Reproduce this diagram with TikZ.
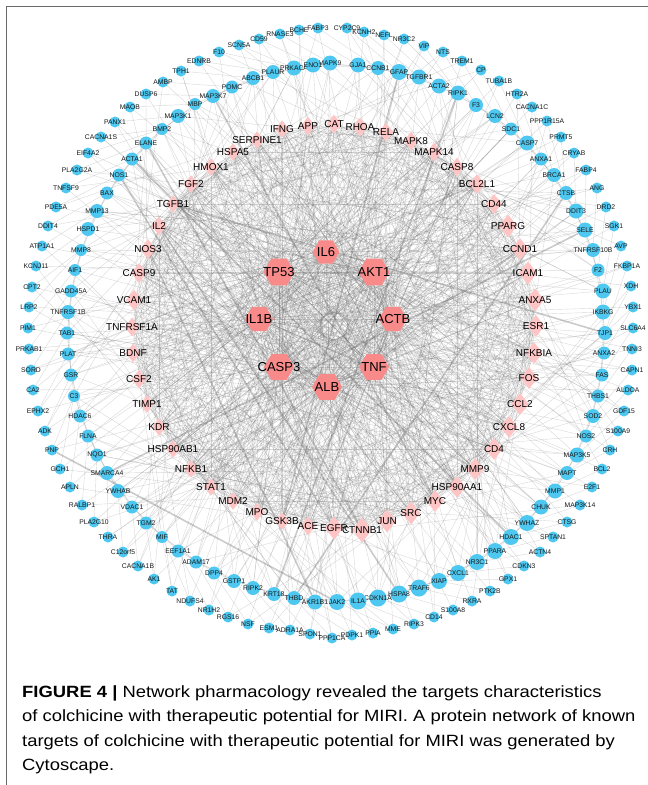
\documentclass[tikz,border=0pt]{standalone}
\usepackage{fontspec}
\setmainfont{Liberation Sans}
\newfontfamily\capfont[FakeStretch=1.13]{Liberation Sans}
\usetikzlibrary{shapes.geometric}
\pgfdeclarelayer{edges}
\pgfsetlayers{edges,main}
\definecolor{hubred}{RGB}{248,138,138}
\definecolor{midpink}{RGB}{255,196,196}
\definecolor{leafblue}{RGB}{78,200,240}
\definecolor{edgegray}{RGB}{105,105,105}
\definecolor{framegray}{RGB}{105,105,105}

\begin{document}
\begin{tikzpicture}[x=1pt,y=-1pt,
	hub/.style={regular polygon, regular polygon sides=6,
				fill=hubred, inner sep=0pt},
	hublab/.style={font=\fontsize{13}{13}\selectfont, inner sep=0pt},
	mid/.style={diamond, fill=midpink, inner sep=0pt},
	midlab/.style={font=\fontsize{10}{10}\selectfont, inner sep=0pt},
	leaf/.style={circle, fill=leafblue, inner sep=0pt},
	leaflab/.style={font=\fontsize{6.8}{6.8}\selectfont, text=black!90, inner sep=0pt},
	link/.style={draw=edgegray, line width=0.4pt, opacity=0.26},
	heavy/.style={draw=edgegray, line width=1.6pt, opacity=0.35}
]
	\useasboundingbox (0,0) rectangle (648,785);
	\draw[framegray, line width=1.2pt] (6.5,785) |- (648,6.5);

	% core targets
	\foreach \nm/\x/\y/\s [count=\i] in {IL6/326/252/27, TP53/279/272/31,
		AKT1/374/272/31, IL1B/259/319/28, ACTB/393/319/28, CASP3/279/367/30,
		TNF/374/367/30, ALB/327/387/30}
		\node[hub, minimum size=\s, alias=h\i,
			label={[hublab]center:\nm}] (\nm) at (\x,\y) {};

	% middle ring
	\foreach \nm/\x/\y/\s [count=\i] in {CAT/334/124/17, RHOA/360/127/17,
		RELA/386/132/17, MAPK8/411/141/17, MAPK14/434/152/17, CASP8/457/167/17,
		BCL2L1/477/184/18, CD44/494/204/18, PPARG/508/226/21, CCND1/520/249/20,
		ICAM1/528/273/21, ANXA5/535/300/21, ESR1/536/326/20, NFKBIA/534/353/20,
		FOS/529/378/20, CCL2/520/404/20, CXCL8/509/427/20, CD4/494/449/20,
		MMP9/475/469/20, HSP90AA1/457/487/20, MYC/435/501/20, SRC/411/513/21,
		JUN/387/521/21, CTNNB1/362/530/23, EGFR/334/528/21, ACE/308/526/17,
		GSK3B/282/521/16, MPO/257/512/16, MDM2/233/501/16, STAT1/211/487/16,
		NFKB1/191/469/16, HSP90AB1/173/449/16, KDR/159/427/16, TIMP1/147/404/16,
		CSF2/139/379/17, BDNF/133/353/17, TNFRSF1A/132/327/17, VCAM1/134/300/19,
		CASP9/139/273/18, NOS3/148/249/18, IL2/159/226/17, TGFB1/173/204/16,
		FGF2/191/184/16, HMOX1/211/167/16, HSPA5/233/152/16, SERPINE1/257/140/16,
		IFNG/282/129/16, APP/308/126/17}
		\node[mid, minimum height=1.1*\s, minimum width=0.86*\s, alias=p\i,
			label={[midlab]center:\nm}] (\nm) at (\x,\y) {};

	% inner leaf ring
	\foreach \nm/\x/\y/\s [count=\i] in {MAPK9/330/63/15, GJA1/358/65/15,
		CCNB1/378/68/14, GFAP/399/72/16, TGFBR1/419/77/15, ACTA2/439/86/15,
		RIPK1/458/93/15, F3/476/105/14, LCN2/495/116/14, SDC1/511/129/13,
		CASP7/527/143/15, ANXA1/541/159/13, BRCA1/554/175/14, CTSB/566/193/14,
		DDIT3/576/211/15, SELE/585/230/15, TNFRSF10B/593/250/14, F2/598/270/13,
		PLAU/603/291/15, IKBKG/603/312/15, TJP1/605/333/14, ANXA2/604/353/13,
		FAS/602/375/13, THBS1/598/396/13, SOD2/593/416/14, NOS2/586/436/13,
		MAP3K5/577/455/15, MAPT/567/473/14, MMP1/555/491/15, CHUK/541/507/15,
		YWHAZ/527/523/16, HDAC1/511/537/16, PPARA/495/551/16, NR3C1/477/562/16,
		CXCL1/458/573/16, XIAP/439/581/16, TRAF6/419/588/17, HSPA8/399/594/17,
		CDKN1A/378/598/17, IL1A/358/601/17, JAK2/337/602/16, AKR1B1/315/602/15,
		THBD/294/598/14, KRT18/274/594/14, RIPK2/253/588/14, GSTP1/234/581/14,
		DPP4/214/573/13, ADAM17/196/562/13, EEF1A1/178/551/13, MIF/162/537/12,
		TGM2/146/523/13, VDAC1/132/507/13, YWHAB/118/491/14, SMARCA4/107/473/14,
		NQO1/97/455/13, FLNA/88/436/13, HDAC6/80/416/13, C3/74/396/12,
		GSR/71/375/13, PLAT/68/354/13, TAB1/67/333/13, TNFRSF1B/68/312/14,
		GADD45A/71/291/13, AIF1/75/270/12, MMP8/81/250/12, HSPD1/88/229/14,
		MMP13/97/211/14, BAX/107/193/13, NOS1/119/175/13, ACTA1/132/159/13,
		ELANE/146/143/13, BMP2/162/129/12, MAP3K1/178/116/14, MBP/195/104/12,
		MAP3K7/213/96/14, POMC/232/87/13, ABCB1/253/78/14, PLAUR/273/72/14,
		PRKACA/294/68/15, ENO1/313/65/15}
		\node[leaf, minimum size=\s, alias=q\i,
			label={[leaflab]center:\nm}] (\nm) at (\x,\y) {};

	% outer leaf ring
	\foreach \nm/\x/\y [count=\i] in {CYP2C9/347/28, KCNH2/364/32, NEFL/384/35,
		NR3C2/404/39, VIP/424/46, NTS/443/52, TREM1/462/61, CP/481/70,
		TUBA1B/499/81, HTR2A/517/94, CACNA1C/532/107, PPP1R15A/547/121,
		PRMT5/561/137, CRYAB/574/153, FABP4/586/170, ANG/597/188, DRD2/606/207,
		SGK1/614/226, AVP/621/246, FKBP1A/627/266, XDH/631/286, YBX1/633/307,
		SLC6A4/633/328, TNNI3/632/349, CAPN1/632/370, ALDOA/628/390,
		GDF15/624/411, S100A9/618/431, CRH/610/450, BCL2/602/469, E2F1/592/487,
		MAP3K14/580/505, CTSG/567/522, SPTAN1/553/537, ACTN4/540/552,
		CDKN3/524/566, GPX1/508/579, PTK2B/490/591, RXRA/472/601,
		S100A8/453/610, CD14/434/617, RIPK3/414/624, MME/393/629, PPIA/373/633,
		PDPK1/352/635, PPP1CA/332/638, SPON1/310/634, ADRA1A/290/630,
		ESM1/269/628, NSF/248/624, RGS16/228/617, NR1H2/209/610,
		NDUFS4/190/601, TAT/172/591, AK1/154/579, CACNA1B/138/566,
		C12orf5/123/552, THRA/108/537, PLA2G10/94/522, RALBP1/82/505,
		APLN/70/487, GCH1/60/469, PNP/52/450, ADK/45/431, EPHX2/38/411,
		CA2/33/390, SORD/31/370, PRKAB1/29/349, PIM1/28/328, LRP2/29/307,
		CPT2/32/287, KCNJ11/36/266, ATP1A1/42/246, DDIT4/48/226, PDE5A/56/207,
		TNFSF9/66/188, PLA2G2A/77/170, EIF4A2/88/153, CACNA1S/101/137,
		PANX1/115/122, MAOB/130/107, DUSP6/146/94, AMBP/163/82, TPH1/181/71,
		EDNRB/199/61, F10/219/52, SCN5A/239/45, CD59/259/39, RNASE3/280/34,
		BCHE/299/30, FABP3/318/28}
		\node[leaf, minimum size=11, alias=o\i,
			label={[leaflab]center:\nm}] (\nm) at (\x,\y) {};

	% interactions
	\begin{pgfonlayer}{edges}
		\foreach \i in {1,...,8}{
			\foreach \j in {\i,...,8} \draw[link] (h\i) -- (h\j);
			\foreach \j in {1,...,48} \draw[link] (h\i) -- (p\j);
		}
		\foreach \j in {1,...,48}{
			\foreach \s in {3,5,8,11,14,17,20,23}{
				\pgfmathtruncatemacro\k{mod(\j+\s-1,48)+1}
				\draw[link] (p\j) -- (p\k);
			}
		}
		\foreach \j in {1,...,80}{
			\pgfmathtruncatemacro\a{mod(\j,8)+1}
			\pgfmathtruncatemacro\e{mod(5*\j+3,8)+1}
			\pgfmathtruncatemacro\b{mod(3*\j,48)+1}
			\pgfmathtruncatemacro\c{mod(7*\j+20,48)+1}
			\pgfmathtruncatemacro\d{mod(\j+2,80)+1}
			\draw[link] (q\j) -- (h\a);
			\draw[link] (q\j) -- (h\e);
			\draw[link] (q\j) -- (p\b);
			\draw[link] (q\j) -- (p\c);
			\draw[link] (q\j) -- (q\d);
		}
		\foreach \j in {1,...,91}{
			\pgfmathtruncatemacro\a{mod(3*\j+1,8)+1}
			\pgfmathtruncatemacro\b{mod(5*\j+7,48)+1}
			\pgfmathtruncatemacro\c{mod(round(\j*80/91)+2,80)+1}
			\draw[link] (o\j) -- (h\a);
			\draw[link] (o\j) -- (p\b);
			\draw[link] (o\j) -- (q\c);
		}
		\draw[heavy] (PNP) -- (JAK2);
		\draw[heavy] (ELANE) -- (CTNNB1);
		\draw[heavy] (NOS1) -- (EGFR);
		\draw[heavy] (NOS3) -- (AKR1B1);
		\draw[heavy] (IL2) -- (HSPA8);
		\draw[heavy] (MAP3K7) -- (MYC);
		\draw[heavy] (GFAP) -- (GSK3B);
		\draw[heavy] (RIPK1) -- (KRT18);
		\draw[heavy] (SELE) -- (SMARCA4);
		\draw[heavy] (TJP1) -- (TGFB1);
		\draw[heavy] (CTSB) -- (THBD);
		\draw[heavy] (ACTA1) -- (HDAC1);
	\end{pgfonlayer}

	\node[anchor=north west, align=left, inner sep=0pt,
		font=\capfont\fontsize{16.3}{24.6}\selectfont] (caption) at (22,685)
		{\textbf{FIGURE 4 |} Network pharmacology revealed the targets characteristics\\
		of colchicine with therapeutic potential for MIRI. A protein network of known\\
		targets of colchicine with therapeutic potential for MIRI was generated by\\
		Cytoscape.};
\end{tikzpicture}
\end{document}
